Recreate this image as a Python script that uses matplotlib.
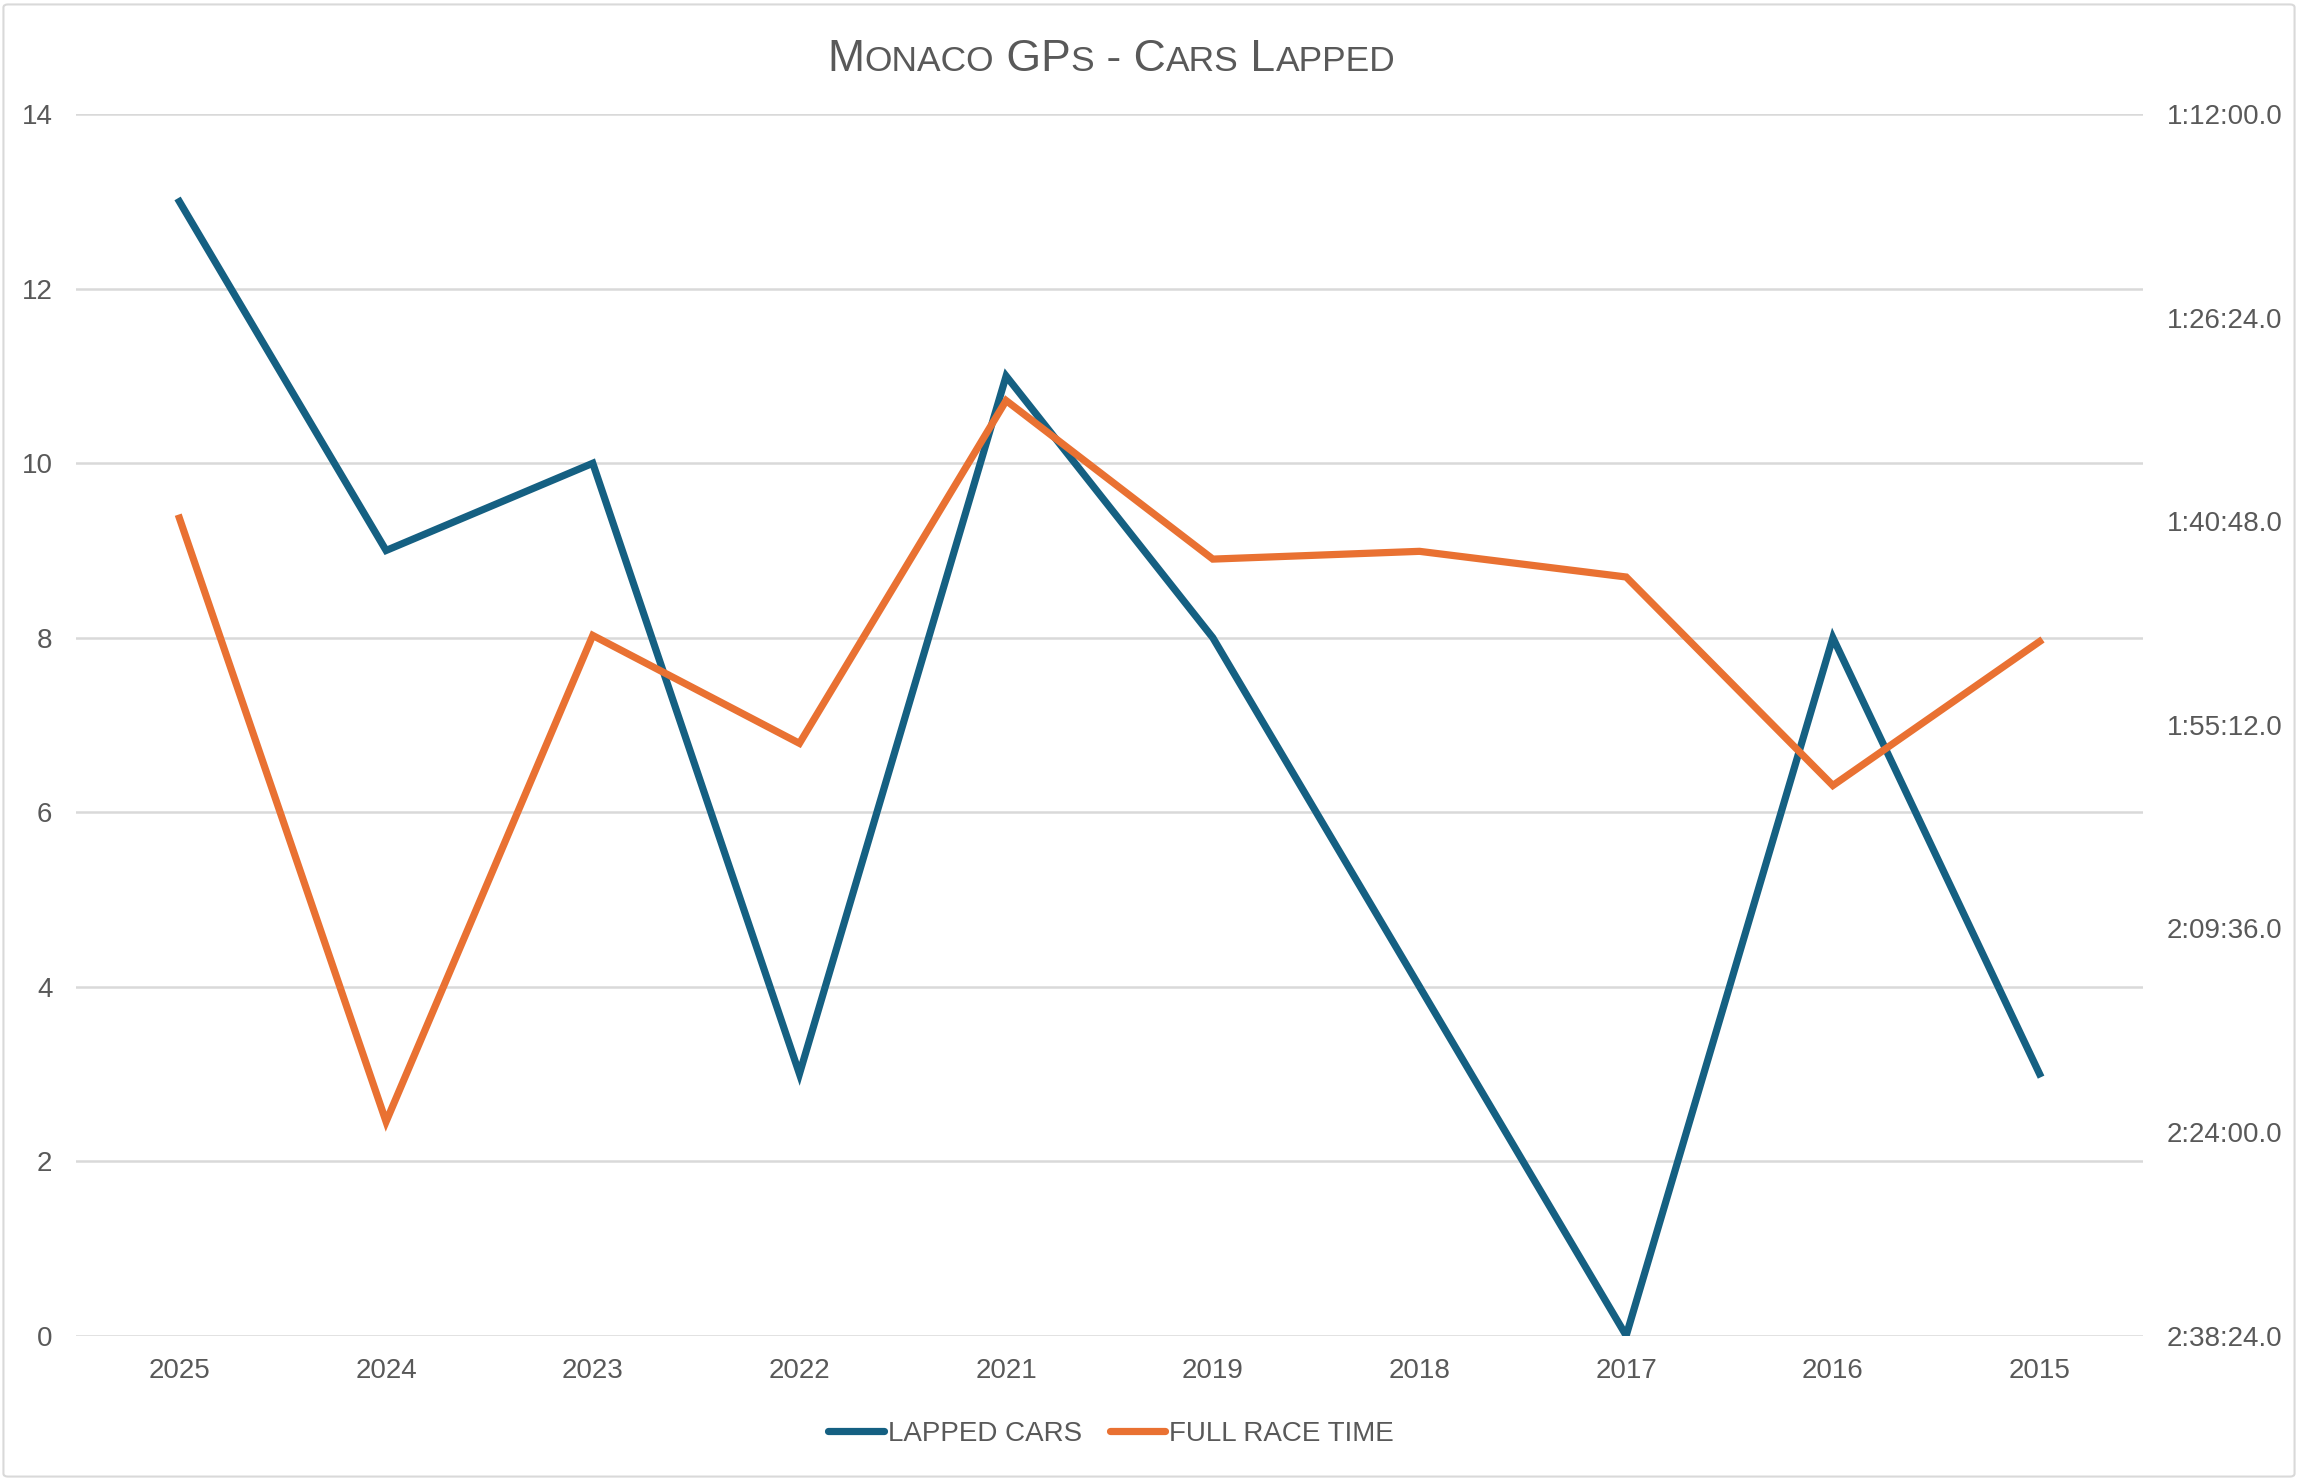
import matplotlib
matplotlib.use("Agg")
import matplotlib.pyplot as plt
from matplotlib import font_manager
from matplotlib.offsetbox import TextArea, HPacker, AnchoredOffsetbox
from matplotlib.patches import FancyBboxPatch
from matplotlib.ticker import FuncFormatter

# data
years = ["2025", "2024", "2023", "2022", "2021", "2019", "2018", "2017", "2016", "2015"]
lapped_cars = [13, 9, 10, 3, 11, 8, 4, 0, 8, 3]
# full race time in seconds
race_time = [6034, 8596, 6532, 6990, 5535, 6208, 6175, 6284, 7169, 6558]

BLUE = "#156082"
ORANGE = "#E97132"
TEXT = "#595959"
GRID = "#D9D9D9"

names = {f.name for f in font_manager.fontManager.ttflist}
narrow = "Liberation Sans Narrow" if "Liberation Sans Narrow" in names else "Liberation Sans"
plt.rcParams["font.family"] = ["Liberation Sans", "DejaVu Sans"]


def fmt_time(s, pos=None):
    s = int(round(s))
    return f"{s // 3600}:{(s % 3600) // 60:02d}:{s % 60:02d}.0"


fig = plt.figure(figsize=(22.98, 14.81), dpi=100)
ax = fig.add_axes([0.0331, 0.0982, 0.8994, 0.8246])
ax2 = ax.twinx()

x = list(range(len(years)))
l1, = ax.plot(x, lapped_cars, color=BLUE, lw=5.2, solid_joinstyle="miter", label="LAPPED CARS")
l2, = ax2.plot(x, race_time, color=ORANGE, lw=5.2, solid_joinstyle="miter", label="FULL RACE TIME")

ax.set_xlim(-0.5, len(years) - 0.5)
ax.set_ylim(0, 14)
ax.set_yticks(range(0, 15, 2))
ax.set_xticks(x)
ax.set_xticklabels(years)
ax.yaxis.grid(True, color=GRID, lw=1.8)
ax.set_axisbelow(True)

ax2.set_ylim(9504, 4320)
ax2.set_yticks([4320 + 864 * k for k in range(7)])
ax2.yaxis.set_major_formatter(FuncFormatter(fmt_time))

for a in (ax, ax2):
    for sp in a.spines.values():
        sp.set_visible(False)
    a.tick_params(length=0, labelsize=20, colors=TEXT)
ax.tick_params(axis="y", pad=17)
ax.tick_params(axis="x", pad=16)
ax2.tick_params(axis="y", pad=17)

# title in small caps
parts = [("M", 32), ("ONACO", 25.5), (" GP", 32), ("S", 25.5), (" - C", 32),
         ("ARS", 25.5), (" L", 32), ("APPED", 25.5)]
boxes = [TextArea(t, textprops=dict(fontsize=s, color=TEXT, family=narrow)) for t, s in parts]
title = HPacker(children=boxes, align="baseline", pad=0, sep=0)
anch = AnchoredOffsetbox(loc="lower center", child=title, frameon=False,
                         bbox_to_anchor=(0.4835, 0.946), bbox_transform=fig.transFigure,
                         borderpad=0, pad=0)
fig.add_artist(anch)

leg = fig.legend(handles=[l1, l2], loc="center", bbox_to_anchor=(0.4835, 0.032),
                 ncol=2, frameon=False, handlelength=2.0, handletextpad=0.15,
                 columnspacing=1.0, prop=dict(family=narrow, size=20))
for t in leg.get_texts():
    t.set_color(TEXT)
for h in leg.get_lines():
    h.set_linewidth(5.2)
    h.set_solid_capstyle("round")

# chart border
border = FancyBboxPatch((0.0015, 0.003), 0.997, 0.994, boxstyle="round,pad=0,rounding_size=0.002",
                        transform=fig.transFigure, fill=False, edgecolor=GRID, lw=1.5)
fig.add_artist(border)

fig.savefig("out.png", dpi=100, facecolor="white")
